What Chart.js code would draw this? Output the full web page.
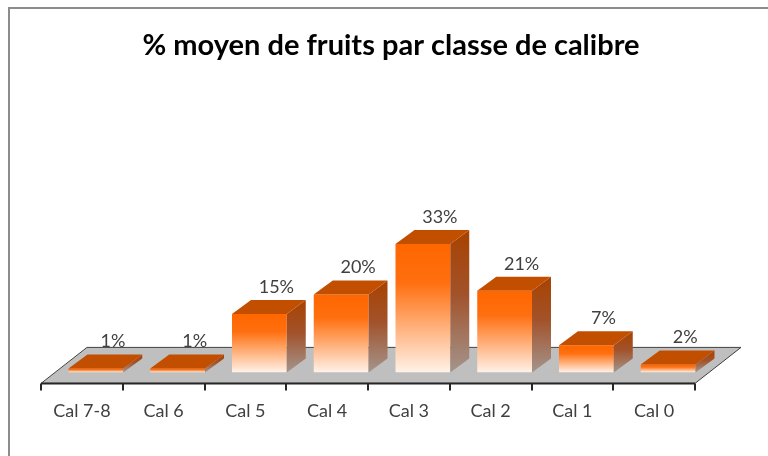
<!DOCTYPE html>
<html>
<head>
<meta charset="utf-8">
<title>% moyen de fruits par classe de calibre</title>
<script src="https://cdn.jsdelivr.net/npm/chart.js@4/dist/chart.umd.min.js"></script>
<style>
    html, body { margin: 0; padding: 0; background: #ffffff; }
    #wrap { width: 768px; height: 456px; }
</style>
</head>
<body>
<div id="wrap"><canvas id="calibreChart" width="768" height="456"></canvas></div>
<script>
// --- données ---
const categories = ['Cal 7-8', 'Cal 6', 'Cal 5', 'Cal 4', 'Cal 3', 'Cal 2', 'Cal 1', 'Cal 0'];
const percentValues = [1, 1, 15, 20, 33, 21, 7, 2];
const chartTitle = '% moyen de fruits par classe de calibre';
const yMax = 40;

// profondeur "3D" (en pixels)
const BAR_DX = 19, BAR_DY = -14;       // épaisseur des barres
const FLOOR_FRONT = { dx: -14, dy: 11 }; // bord avant du sol
const FLOOR_BACK = { dx: 32, dy: -25 };  // bord arrière du sol

const FONT_FAMILY = 'Lato, "Open Sans", sans-serif';

// cadre gris du graphique (style Excel)
const framePlugin = {
    id: 'frame',
    beforeDraw(chart) {
        const ctx = chart.ctx;
        ctx.save();
        ctx.strokeStyle = '#8c8c8c';
        ctx.lineWidth = 2;
        ctx.beginPath();
        ctx.moveTo(9, chart.height);
        ctx.lineTo(9, 8);
        ctx.lineTo(chart.width, 8);
        ctx.stroke();
        ctx.restore();
    }
};

// sol gris + axe avant avec graduations
const floorPlugin = {
    id: 'floor3d',
    beforeDatasetsDraw(chart) {
        const { ctx, chartArea } = chart;
        const L = chartArea.left, R = chartArea.right, B = chartArea.bottom;
        ctx.save();
        ctx.beginPath();
        ctx.moveTo(L + FLOOR_FRONT.dx, B + FLOOR_FRONT.dy);
        ctx.lineTo(L + FLOOR_BACK.dx, B + FLOOR_BACK.dy);
        ctx.lineTo(R + FLOOR_BACK.dx, B + FLOOR_BACK.dy);
        ctx.lineTo(R + FLOOR_FRONT.dx, B + FLOOR_FRONT.dy);
        ctx.closePath();
        ctx.fillStyle = '#bfbfbf';
        ctx.fill();
        ctx.strokeStyle = '#404040';
        ctx.lineWidth = 1;
        ctx.stroke();

        // bord avant épais
        ctx.beginPath();
        ctx.strokeStyle = '#262626';
        ctx.lineWidth = 2;
        ctx.moveTo(L + FLOOR_FRONT.dx, B + FLOOR_FRONT.dy);
        ctx.lineTo(R + FLOOR_FRONT.dx, B + FLOOR_FRONT.dy);
        ctx.stroke();

        // graduations entre catégories
        const step = (R - L) / categories.length;
        for (let i = 0; i <= categories.length; i++) {
            const x = Math.round(L + FLOOR_FRONT.dx + i * step);
            ctx.beginPath();
            ctx.moveTo(x, B + FLOOR_FRONT.dy);
            ctx.lineTo(x, B + FLOOR_FRONT.dy + 7);
            ctx.stroke();
        }
        ctx.restore();
    }
};

// faces latérales et supérieures des barres + étiquettes
const bars3dPlugin = {
    id: 'bars3d',
    afterDatasetsDraw(chart) {
        const ctx = chart.ctx;
        const meta = chart.getDatasetMeta(0);
        ctx.save();
        meta.data.forEach((bar, i) => {
            const left = bar.x - bar.width / 2;
            const right = bar.x + bar.width / 2;
            const top = bar.y, base = bar.base;

            // face droite
            const side = ctx.createLinearGradient(0, top + BAR_DY, 0, base);
            side.addColorStop(0, '#a84200');
            side.addColorStop(0.45, '#a2522a');
            side.addColorStop(1, '#a3958d');
            ctx.beginPath();
            ctx.moveTo(right, top);
            ctx.lineTo(right + BAR_DX, top + BAR_DY);
            ctx.lineTo(right + BAR_DX, base + BAR_DY);
            ctx.lineTo(right, base);
            ctx.closePath();
            ctx.fillStyle = side;
            ctx.fill();

            // dessus
            ctx.beginPath();
            ctx.moveTo(left, top);
            ctx.lineTo(left + BAR_DX, top + BAR_DY);
            ctx.lineTo(right + BAR_DX, top + BAR_DY);
            ctx.lineTo(right, top);
            ctx.closePath();
            ctx.fillStyle = '#c24e00';
            ctx.fill();

            // étiquette de valeur
            ctx.fillStyle = '#404040';
            ctx.font = '18px ' + FONT_FAMILY;
            ctx.textAlign = 'center';
            ctx.textBaseline = 'middle';
            ctx.fillText(percentValues[i] + '%', bar.x + 17, top - 27);
        });
        ctx.restore();
    }
};

function frontGradient(context) {
    const chart = context.chart;
    if (!chart.chartArea) return '#ff6600';
    const yScale = chart.scales.y;
    const top = yScale.getPixelForValue(context.raw);
    const bottom = yScale.getPixelForValue(0);
    const g = chart.ctx.createLinearGradient(0, top, 0, bottom);
    g.addColorStop(0, '#ff6600');
    g.addColorStop(0.3, '#ff6f0f');
    g.addColorStop(1, '#fff2e8');
    return g;
}

const ctx = document.getElementById('calibreChart').getContext('2d');
new Chart(ctx, {
    type: 'bar',
    data: {
        labels: categories,
        datasets: [{
            data: percentValues,
            backgroundColor: frontGradient,
            borderWidth: 0,
            barPercentage: 0.67,
            categoryPercentage: 1.0
        }]
    },
    options: {
        responsive: false,
        animation: false,
        layout: { padding: { left: 14, right: 0, top: 0, bottom: 6 } },
        plugins: {
            legend: { display: false },
            tooltip: { enabled: false },
            title: {
                display: true,
                text: chartTitle,
                color: '#000000',
                font: { family: FONT_FAMILY, size: 29, weight: 'bold' },
                padding: { top: 28, bottom: 154 }
            }
        },
        scales: {
            x: {
                grid: { display: false, drawTicks: false },
                border: { display: false },
                ticks: {
                    color: '#404040',
                    font: { family: FONT_FAMILY, size: 18 },
                    padding: 28,
                    labelOffset: -14,
                    maxRotation: 0
                }
            },
            // axes invisibles : servent seulement à réserver les marges gauche/droite
            y: {
                position: 'left', min: 0, max: yMax,
                grid: { display: false, drawTicks: false },
                border: { display: false },
                ticks: { display: false },
                afterFit(scale) { scale.width = 41; }
            },
            yRight: {
                position: 'right', min: 0, max: yMax,
                grid: { display: false, drawTicks: false },
                border: { display: false },
                ticks: { display: false },
                afterFit(scale) { scale.width = 59; }
            }
        }
    },
    plugins: [framePlugin, floorPlugin, bars3dPlugin]
});
</script>
</body>
</html>
